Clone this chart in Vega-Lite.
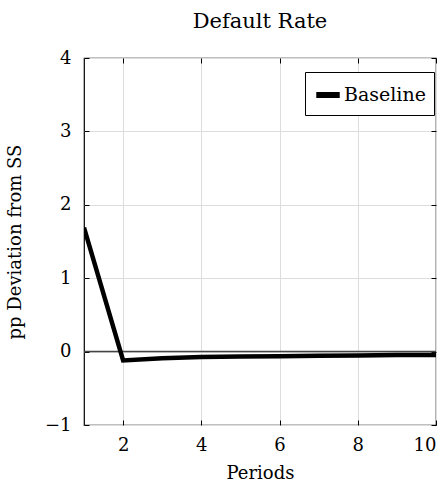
{
  "$schema": "https://vega.github.io/schema/vega-lite/v6.json",
  "width": 352,
  "height": 367,
  "autosize": "none",
  "padding": {"left": 84, "top": 58, "right": 12, "bottom": 60},
  "background": "white",
  "config": {
    "font": "DejaVu Serif",
    "view": {"stroke": "black", "strokeWidth": 1.2},
    "axis": {
      "labelFont": "DejaVu Serif",
      "titleFont": "DejaVu Serif",
      "labelFontSize": 18,
      "titleFontSize": 18,
      "titleFontWeight": "normal",
      "labelColor": "black",
      "titleColor": "black",
      "domain": false,
      "tickColor": "black",
      "tickSize": -5,
      "gridColor": "#dddddd",
      "gridWidth": 1
    }
  },
  "title": {
    "text": "Default Rate",
    "font": "DejaVu Serif",
    "fontSize": 21,
    "fontWeight": "normal",
    "color": "black",
    "offset": 17
  },
  "data": {
    "values": [
      {"period": 1, "value": 1.69, "series": "Baseline"},
      {"period": 2, "value": -0.12, "series": "Baseline"},
      {"period": 3, "value": -0.09, "series": "Baseline"},
      {"period": 4, "value": -0.075, "series": "Baseline"},
      {"period": 5, "value": -0.068, "series": "Baseline"},
      {"period": 6, "value": -0.062, "series": "Baseline"},
      {"period": 7, "value": -0.057, "series": "Baseline"},
      {"period": 8, "value": -0.052, "series": "Baseline"},
      {"period": 9, "value": -0.048, "series": "Baseline"},
      {"period": 10, "value": -0.045, "series": "Baseline"}
    ]
  },
  "resolve": {"axis": {"x": "independent", "y": "independent"}},
  "layer": [
    {
      "mark": {"type": "line", "opacity": 0},
      "encoding": {
        "x": {
          "field": "period",
          "type": "quantitative",
          "scale": {"domain": [1, 10], "nice": false, "zero": false},
          "axis": {"orient": "top", "values": [2, 4, 6, 8, 10], "labels": false, "title": null, "grid": false}
        },
        "y": {
          "field": "value",
          "type": "quantitative",
          "scale": {"domain": [-1, 4], "nice": false},
          "axis": {"orient": "right", "values": [-1, 0, 1, 2, 3, 4], "labels": false, "title": null, "grid": false}
        }
      }
    },
    {
      "mark": {"type": "rule", "color": "#444444", "strokeWidth": 1.5},
      "data": {"values": [{"zero": 0}]},
      "encoding": {"y": {"field": "zero", "type": "quantitative", "axis": null}}
    },
    {
      "mark": {"type": "line", "strokeWidth": 4.5, "strokeJoin": "miter", "clip": true},
      "encoding": {
        "x": {
          "field": "period",
          "type": "quantitative",
          "title": "Periods",
          "scale": {"domain": [1, 10], "nice": false, "zero": false},
          "axis": {"orient": "bottom", "grid": true, "values": [2, 4, 6, 8, 10], "format": "d", "labelPadding": 16, "titlePadding": 10}
        },
        "y": {
          "field": "value",
          "type": "quantitative",
          "title": "pp Deviation from SS",
          "scale": {"domain": [-1, 4], "nice": false},
          "axis": {"orient": "left", "grid": true, "values": [-1, 0, 1, 2, 3, 4], "format": "d", "labelPadding": 18, "titlePadding": 20}
        },
        "color": {
          "field": "series",
          "type": "nominal",
          "scale": {"range": ["black"]},
          "legend": {
            "title": null,
            "orient": "none",
            "legendX": 221,
            "legendY": 14,
            "symbolType": "stroke",
            "symbolStrokeWidth": 6,
            "symbolSize": 550,
            "labelFont": "DejaVu Serif",
            "labelFontSize": 19,
            "labelColor": "black",
            "labelOffset": 1,
            "strokeColor": "black",
            "fillColor": "white",
            "padding": 8,
            "cornerRadius": 0
          }
        }
      }
    }
  ]
}
